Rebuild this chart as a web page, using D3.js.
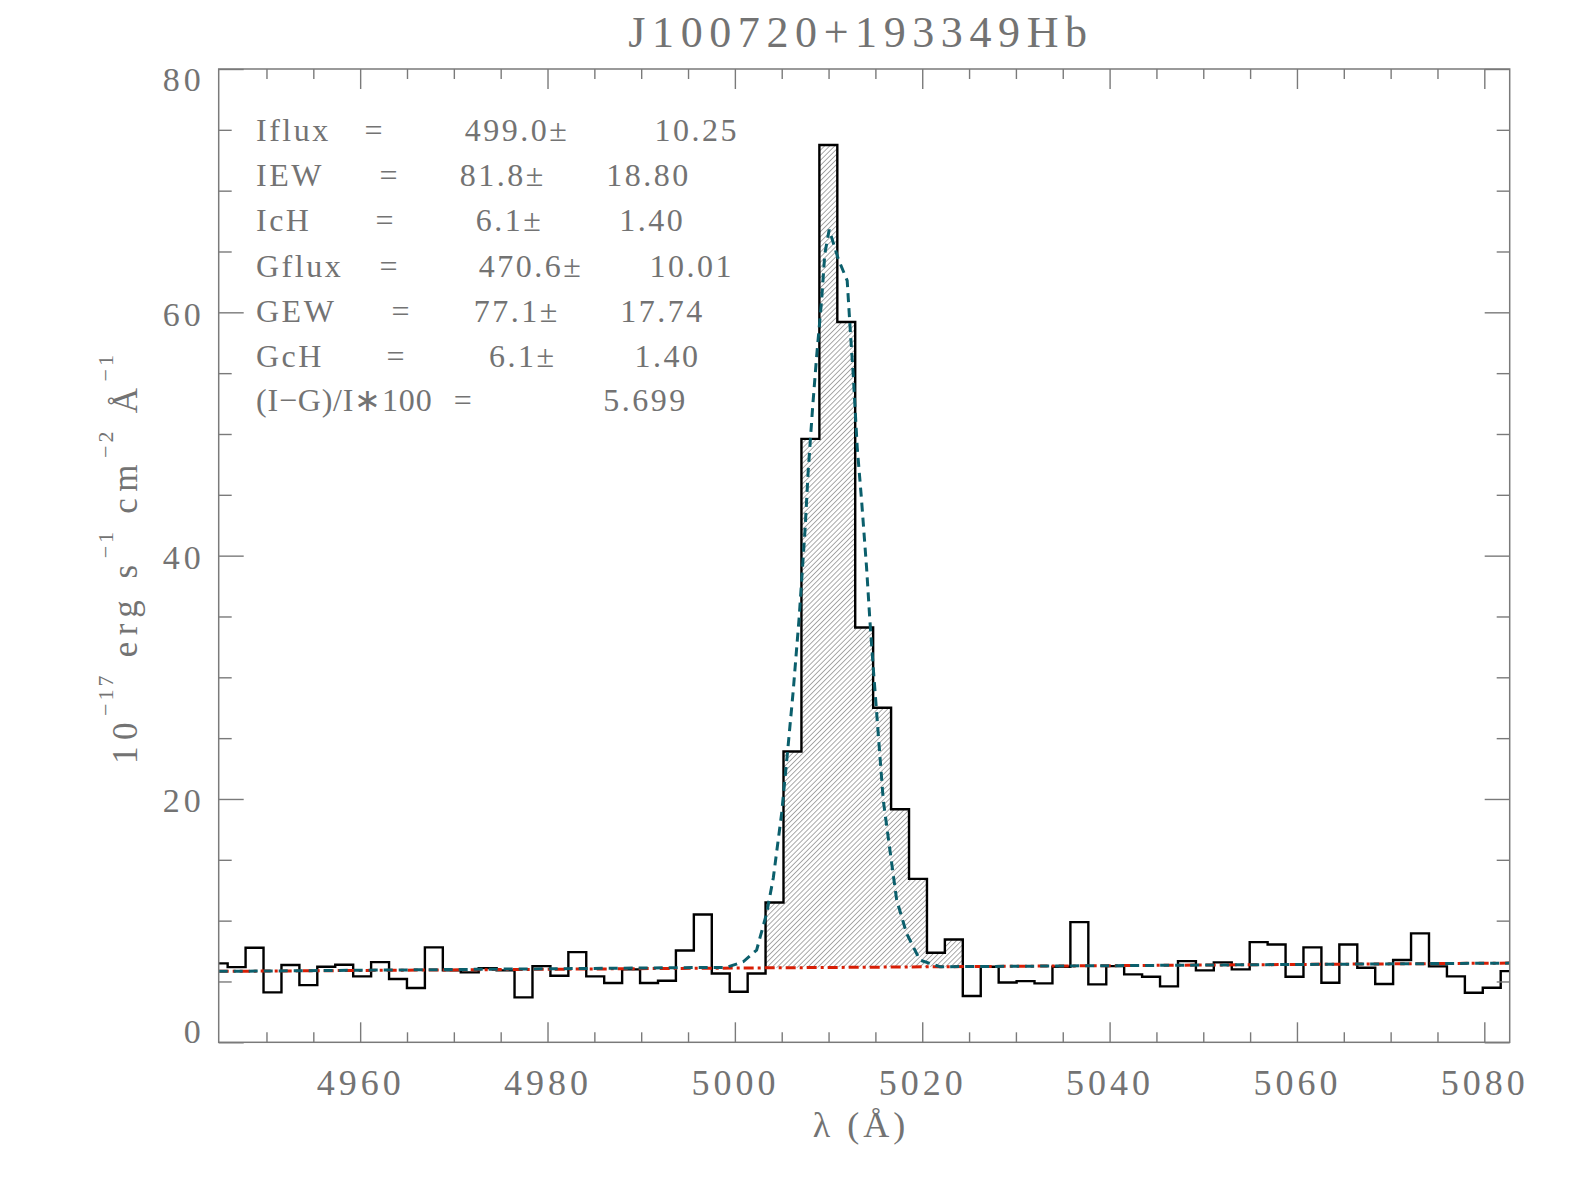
<!DOCTYPE html>
<html>
<head>
<meta charset="utf-8">
<script src="https://cdn.jsdelivr.net/npm/d3@7"></script>
<style>
  body { margin: 0; background: #fff; }
  svg text { font-family: "Liberation Serif", serif; fill: #737373; }
</style>
</head>
<body>
<div id="chart"></div>
<script>
// spectrum (rest wavelength, flux)
const wavelength = [
  4944.90, 4946.81, 4948.73, 4950.64, 4952.56, 4954.47, 4956.38, 4958.30, 4960.21, 4962.13,
  4964.04, 4965.95, 4967.87, 4969.78, 4971.70, 4973.61, 4975.52, 4977.44, 4979.35, 4981.27,
  4983.18, 4985.09, 4987.01, 4988.92, 4990.84, 4992.75, 4994.66, 4996.58, 4998.49, 5000.41,
  5002.32, 5004.23, 5006.15, 5008.06, 5009.98, 5011.89, 5013.80, 5015.72, 5017.63, 5019.55,
  5021.46, 5023.37, 5025.29, 5027.20, 5029.12, 5031.03, 5032.94, 5034.86, 5036.77, 5038.69,
  5040.60, 5042.51, 5044.43, 5046.34, 5048.26, 5050.17, 5052.08, 5054.00, 5055.91, 5057.83,
  5059.74, 5061.65, 5063.57, 5065.48, 5067.40, 5069.31, 5071.22, 5073.14, 5075.05, 5076.97,
  5078.88, 5080.79, 5082.71
];
const flux = [
  6.49, 6.18, 7.77, 4.10, 6.35, 4.70, 6.21, 6.37, 5.42, 6.59,
  5.20, 4.46, 7.80, 5.91, 5.75, 6.10, 5.91, 3.69, 6.26, 5.47,
  7.41, 5.42, 4.87, 5.99, 4.87, 5.06, 7.55, 10.51, 5.66, 4.16,
  5.66, 11.49, 23.9, 49.6, 73.75, 59.2, 34.1, 27.5, 19.15, 13.43,
  7.36, 8.45, 3.80, 6.21, 4.92, 5.03, 4.84, 6.21, 9.88, 4.76,
  6.26, 5.58, 5.39, 4.60, 6.67, 5.91, 6.57, 5.99, 8.23, 8.04,
  5.39, 7.80, 4.90, 8.04, 6.13, 4.79, 6.76, 8.95, 6.24, 5.42,
  4.07, 4.48, 5.85
];
// integrated (hatched) bins: first and last index
const lineBins = [31, 41];

// continuum (red dash-dot)
const contWave = [4944.90, 5082.71];
const contFlux = [5.83, 6.51];

// gaussian fit + continuum (teal dashed)
const fitWave = [4944.90, 4999.12, 5000.89, 5002.32, 5003.39, 5004.10, 5004.99, 5005.70, 5006.23,
  5006.87, 5007.48, 5007.83, 5008.30, 5008.73, 5009.26, 5009.60, 5010.07, 5011.03, 5011.99,
  5012.28, 5012.63, 5013.06, 5013.53, 5014.06, 5014.41, 5014.77, 5015.30, 5015.84, 5016.55,
  5017.27, 5018.33, 5019.75, 5021.89, 5082.71];
const fitFlux = [5.83, 6.16, 6.62, 7.58, 10.6, 13.5, 18.8, 24.5, 28.9,
  35.0, 42.0, 47.0, 52.2, 56.4, 61.0, 64.8, 66.8, 64.4, 62.6,
  59.0, 54.9, 48.9, 44.5, 39.0, 34.7, 30.8, 25.4, 19.9, 15.8,
  11.7, 8.95, 6.76, 6.21, 6.51];

const xMajor = [4960, 4980, 5000, 5020, 5040, 5060, 5080];
const yMajor = [0, 20, 40, 60, 80];

const title = "J100720+193349Hb";
const statNames = ["Iflux", "IEW", "IcH", "Gflux", "GEW", "GcH", "(I\u2212G)/I\u2217100"];
const statValues = ["499.0\u00b1", "81.8\u00b1", "6.1\u00b1", "470.6\u00b1", "77.1\u00b1", "6.1\u00b1", "5.699"];
const statErrors = ["10.25", "18.80", "1.40", "10.01", "17.74", "1.40", ""];

// ---- layout
const width = 1574, height = 1181;
const margin = { TOP: 69, BOTTOM: 138.7, LEFT: 218.7, RIGHT: 64.3 };
const W = width - margin.LEFT - margin.RIGHT;
const H = height - margin.TOP - margin.BOTTOM;
const AXIS = "#7a7a7a";

const svg = d3.select("#chart").append("svg")
    .attr("width", width)
    .attr("height", height);
const g = svg.append("g")
    .attr("transform", `translate(${margin.LEFT}, ${margin.TOP})`);

const x = d3.scaleLinear().domain([wavelength[0], wavelength[wavelength.length - 1]]).range([0, W]);
const y = d3.scaleLinear().domain([0, 80]).range([H, 0]);
const cont = d3.scaleLinear().domain(contWave).range(contFlux);

const spec = wavelength.map((w, i) => ({ w, f: flux[i] }));

// hatch pattern
const defs = svg.append("defs");
defs.append("pattern")
    .attr("id", "hatch")
    .attr("patternUnits", "userSpaceOnUse")
    .attr("width", 3.6).attr("height", 3.6)
    .attr("patternTransform", "rotate(45)")
  .append("line")
    .attr("x1", 0).attr("y1", 0).attr("x2", 0).attr("y2", 3.6)
    .attr("stroke", "#555").attr("stroke-width", 1);

const i0 = lineBins[0], i1 = lineBins[1];
const left = x((wavelength[i0 - 1] + wavelength[i0]) / 2);
const right = x((wavelength[i1] + wavelength[i1 + 1]) / 2);
defs.append("clipPath").attr("id", "lineclip")
  .append("rect")
    .attr("x", left).attr("y", 0)
    .attr("width", right - left).attr("height", H);

const hatchArea = d3.area()
    .curve(d3.curveStep)
    .x(d => x(d.w))
    .y0(d => y(cont(d.w)))
    .y1(d => y(d.f));

g.append("path")
    .attr("clip-path", "url(#lineclip)")
    .attr("fill", "url(#hatch)")
    .attr("d", hatchArea(spec.slice(i0 - 1, i1 + 2)));

// histogram spectrum
const step = d3.line().curve(d3.curveStep).x(d => x(d.w)).y(d => y(d.f));
g.append("path")
    .attr("fill", "none")
    .attr("stroke", "#000")
    .attr("stroke-width", 2.4)
    .attr("d", step(spec));

// continuum
const lin = d3.line().x(d => x(d[0])).y(d => y(d[1]));
g.append("path")
    .attr("fill", "none")
    .attr("stroke", "#d81e05")
    .attr("stroke-width", 3)
    .attr("stroke-dasharray", "10 4 3 4")
    .attr("d", lin(contWave.map((w, i) => [w, contFlux[i]])));

// gaussian fit
g.append("path")
    .attr("fill", "none")
    .attr("stroke", "#0b5f6c")
    .attr("stroke-width", 3)
    .attr("stroke-dasharray", "9 6")
    .attr("d", lin(fitWave.map((w, i) => [w, fitFlux[i]])));

// ---- axes
function styleAxis(sel) {
  sel.select(".domain").remove();
  sel.selectAll(".tick line").attr("stroke", AXIS).attr("stroke-width", 1.4);
  sel.selectAll(".tick text")
      .attr("fill", "#737373")
      .style("font-family", '"Liberation Serif", serif');
}
const xMinor = d3.range(4950, 5083, 5).filter(v => !xMajor.includes(v));
const yMinor = d3.range(5, 80, 5).filter(v => !yMajor.includes(v));

g.append("g").attr("transform", `translate(0,${H})`)
    .call(d3.axisBottom(x).tickValues(xMajor).tickSize(-20).tickPadding(27).tickFormat(d3.format("d")))
    .call(styleAxis)
    .call(a => a.selectAll("text").style("font-size", "36px").style("letter-spacing", "4px"));
g.append("g").attr("transform", `translate(0,${H})`)
    .call(d3.axisBottom(x).tickValues(xMinor).tickSize(-10).tickFormat(""))
    .call(styleAxis);
g.append("g")
    .call(d3.axisTop(x).tickValues(xMajor).tickSize(-20).tickFormat(""))
    .call(styleAxis);
g.append("g")
    .call(d3.axisTop(x).tickValues(xMinor).tickSize(-10).tickFormat(""))
    .call(styleAxis);

g.append("g")
    .call(d3.axisLeft(y).tickValues(yMajor).tickSize(-25).tickPadding(14).tickFormat(d3.format("d")))
    .call(styleAxis)
    .call(a => a.selectAll("text")
        .style("font-size", "34px").style("letter-spacing", "4px")
        .attr("dy", d => d === 80 ? "0.64em" : d === 0 ? "0em" : "0.38em"));
g.append("g")
    .call(d3.axisLeft(y).tickValues(yMinor).tickSize(-13).tickFormat(""))
    .call(styleAxis);
g.append("g").attr("transform", `translate(${W},0)`)
    .call(d3.axisRight(y).tickValues(yMajor).tickSize(-25).tickFormat(""))
    .call(styleAxis);
g.append("g").attr("transform", `translate(${W},0)`)
    .call(d3.axisRight(y).tickValues(yMinor).tickSize(-13).tickFormat(""))
    .call(styleAxis);

g.append("rect")
    .attr("width", W).attr("height", H)
    .attr("fill", "none")
    .attr("stroke", AXIS)
    .attr("stroke-width", 1.5);

// ---- title and axis labels
svg.append("text")
    .attr("x", 861).attr("y", 47)
    .attr("text-anchor", "middle")
    .style("font-size", "44px")
    .style("letter-spacing", "6.6px")
    .text(title);

svg.append("text")
    .attr("x", 861).attr("y", 1137)
    .attr("text-anchor", "middle")
    .style("font-size", "36px")
    .style("letter-spacing", "4px")
    .text("\u03bb (\u00c5)");

const yl = svg.append("text")
    .attr("transform", "translate(137,558) rotate(-90)")
    .attr("text-anchor", "middle")
    .style("font-size", "35px")
    .style("letter-spacing", "6.5px");
const ylParts = [["10", 0], ["\u221217", 1], [" erg s", 0], ["\u22121", 1], [" cm", 0], ["\u22122", 1], [" \u00c5", 0], ["\u22121", 1]];
ylParts.forEach(([t, sup]) => {
  const ts = yl.append("tspan").text(t);
  if (sup) ts.attr("dy", -24).style("font-size", "22px").style("letter-spacing", "3px");
  else ts.attr("dy", 24);
});
yl.select("tspan").attr("dy", 0);

// ---- fit statistics
const statY = [140.5, 186, 231, 276.5, 321.5, 366.5, 411];
const eqX = [364.4, 379.4, 375.4, 379.4, 391.5, 386.5, 453.7];
const valX = [464.8, 459.7, 475.8, 478.8, 473.8, 488.9, 603.3];
const errX = [654.5, 606.3, 619.3, 649.5, 620.3, 634.4, 0];
const stats = svg.append("g").style("font-size", "32px").style("letter-spacing", "2.5px");
statNames.forEach((name, i) => {
  const row = stats.append("g").attr("transform", `translate(0,${statY[i]})`);
  row.append("text").attr("x", 256).text(name)
      .style("letter-spacing", i === statNames.length - 1 ? "0.8px" : null);
  row.append("text").attr("x", eqX[i]).text("=");
  row.append("text").attr("x", valX[i]).text(statValues[i]);
  if (statErrors[i]) row.append("text").attr("x", errX[i]).text(statErrors[i]);
});
</script>
</body>
</html>
